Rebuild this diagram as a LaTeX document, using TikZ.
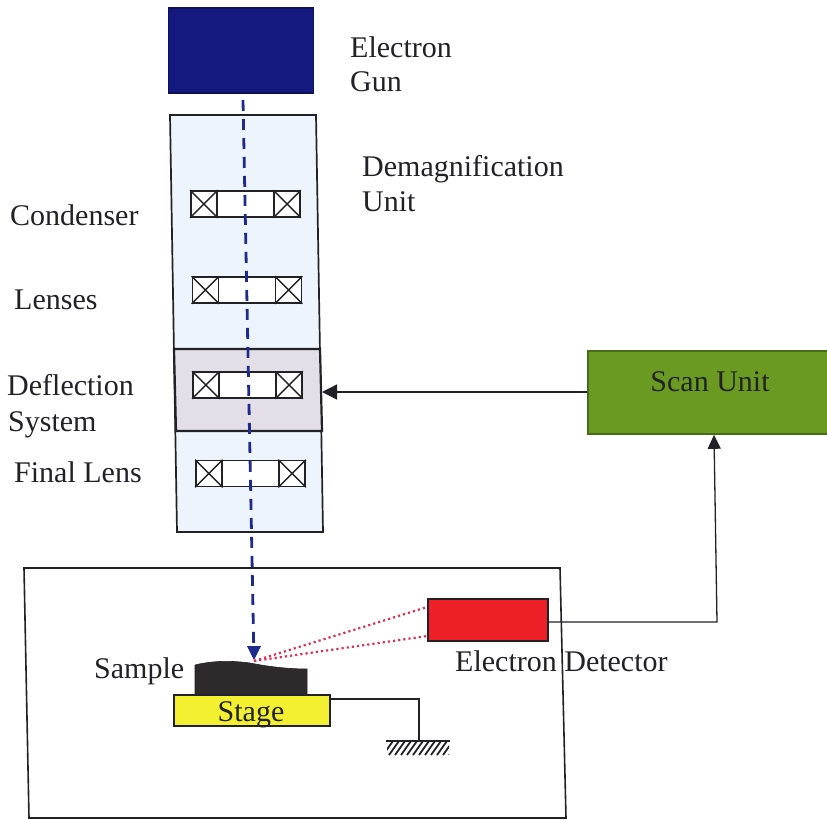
\documentclass[tikz,border=0pt]{standalone}
\usepackage{fontspec}
\setmainfont{Liberation Serif}
\usetikzlibrary{arrows.meta}
\definecolor{colfill}{HTML}{EEF4FC}
\definecolor{deffill}{HTML}{E3DEE8}
\definecolor{gunblue}{HTML}{14197F}
\definecolor{beam}{HTML}{1E2A8E}
\definecolor{scangreen}{HTML}{6A9A22}
\definecolor{detred}{HTML}{EE2027}
\definecolor{stageyellow}{HTML}{F2F030}
\definecolor{samp}{HTML}{2E2A2C}
\definecolor{ink}{HTML}{222226}
\definecolor{txt}{HTML}{222226}
\definecolor{dots}{HTML}{E0304F}
\newcommand{\lensunit}[3]{%
  \node[lensbar,minimum width=109pt,minimum height=26pt] (#1) at (#2,#3) {};
  \node[coil,minimum size=26pt,anchor=west] (#1l) at (#1.west) {};
  \node[coil,minimum size=26pt,anchor=east] (#1r) at (#1.east) {};
  \draw[line width=1.5pt,ink] (#1l.north west) -- (#1l.south east) (#1l.north east) -- (#1l.south west);
  \draw[line width=1.5pt,ink] (#1r.north west) -- (#1r.south east) (#1r.north east) -- (#1r.south west);
}
\tikzset{
  plainbox/.style={draw=ink,line width=1.6pt,inner sep=0pt,rectangle},
  lensbar/.style={draw=ink,line width=1.8pt,fill=white,inner sep=0pt,rectangle},
  coil/.style={draw=ink,line width=1.6pt,fill=white,inner sep=0pt,rectangle},
  lab/.style={text=txt,font=\fontsize{30}{34}\selectfont,inner sep=0pt,align=left},
  conn/.style={draw=ink,line width=1.3pt},
  beamline/.style={draw=beam,line width=2.8pt,dash pattern=on 11pt off 8pt},
  dotline/.style={draw=dots,line width=2.2pt,dash pattern=on 2.2pt off 3pt}
}
\begin{document}
\begin{tikzpicture}[x=1pt,y=-1pt]
\useasboundingbox (0,0) rectangle (827,819);
% chamber
\coordinate (chA) at (24,568); \coordinate (chB) at (560,568);
\coordinate (chC) at (566,818); \coordinate (chD) at (29,818);
\draw[ink,line width=1.6pt] (chA) -- (chB) -- (chC) -- (chD) -- cycle;
% gun
\node[plainbox,draw=gunblue!70!black,fill=gunblue,minimum width=145pt,minimum height=85pt] (gun) at (241,50.5) {};
% column
\coordinate (cA) at (170,115); \coordinate (cB) at (316,115);
\coordinate (cC) at (323,532); \coordinate (cD) at (177,532);
\coordinate (dA) at (174,349); \coordinate (dB) at (320,349);
\coordinate (dC) at (322,431); \coordinate (dD) at (176,431);
\draw[ink,line width=1.7pt,fill=colfill] (cA) -- (cB) -- (cC) -- (cD) -- cycle;
\draw[ink,line width=2.2pt,fill=deffill] (dA) -- (dB) -- (dC) -- (dD) -- cycle;
\coordinate (dE) at (322,392);
% lenses
\lensunit{la}{245.5}{204}
\lensunit{lb}{247}{290}
\lensunit{lc}{247.5}{385}
\lensunit{ld}{250.5}{473.5}
% sample & stage
\draw[ink,fill=samp,line width=0.6pt] (195,695) -- (195,665) .. controls (215,660) and (235,661) .. (250,663) .. controls (270,667) and (290,669) .. (307,669) -- (307,695) -- cycle;
\node[plainbox,fill=stageyellow,minimum width=156pt,minimum height=31pt] (stage) at (252,710.5) {};
\node[lab,anchor=base] (stagelab) at (251,721) {Stage};
% ground
\coordinate (gnd) at (419,741);
\begin{scope}
\clip (387,741) rectangle (449,755);
\foreach \hx in {387,393,...,465}
  \draw[ink,line width=1.8pt] (\hx,741) -- (\hx-10,755);
\end{scope}
\draw[ink,line width=1.6pt] (386,741) -- (450,741);
\draw[conn] (stage.east |- 0,699) -| (gnd);
% detector
\node[plainbox,fill=detred,minimum width=120pt,minimum height=42pt] (det) at (488,620) {};
% scan unit
\node[plainbox,draw=scangreen!70!black,fill=scangreen,minimum width=240pt,minimum height=83pt] (scan) at (708,392.5) {};
\node[lab,anchor=base] (scanlab) at (710,391) {Scan Unit};
% connectors
\coordinate (sp) at (254,661);
\coordinate (bt) at (243,100);
\draw[beamline] (bt) -- (253.7,645);
\fill[beam] (247,646) -- (261,646) -- (254,660) -- cycle;
\draw[dotline] (sp) -- (det.west |- 0,607);
\draw[dotline] (sp) -- (det.west |- 0,636);
\draw[conn,-{Triangle[length=15pt,width=15pt]}] (scan.west |- dE) -- (dE);
\draw[conn,-{Triangle[length=14pt,width=13pt]}] (det.east |- 0,622) -- (717,622) -- (714,0 |- scan.south);
% labels
\node[lab,anchor=base west] (l1) at (350,57) {Electron};
\node[lab,anchor=base west] (l2) at (350,91) {Gun};
\node[lab,anchor=base west] (l3) at (362,176) {Demagnification};
\node[lab,anchor=base west] (l4) at (362,211) {Unit};
\node[lab,anchor=base west] (l5) at (10,225) {Condenser};
\node[lab,anchor=base west] (l6) at (14,309) {Lenses};
\node[lab,anchor=base west] (l7) at (7,395) {Deflection};
\node[lab,anchor=base west] (l8) at (8,431) {System};
\node[lab,anchor=base west] (l9) at (14,482) {Final Lens};
\node[lab,anchor=base west] (l10) at (94,678) {Sample};
\node[lab,anchor=base west] (l11) at (455,671) {Electron Detector};
\end{tikzpicture}
\end{document}
